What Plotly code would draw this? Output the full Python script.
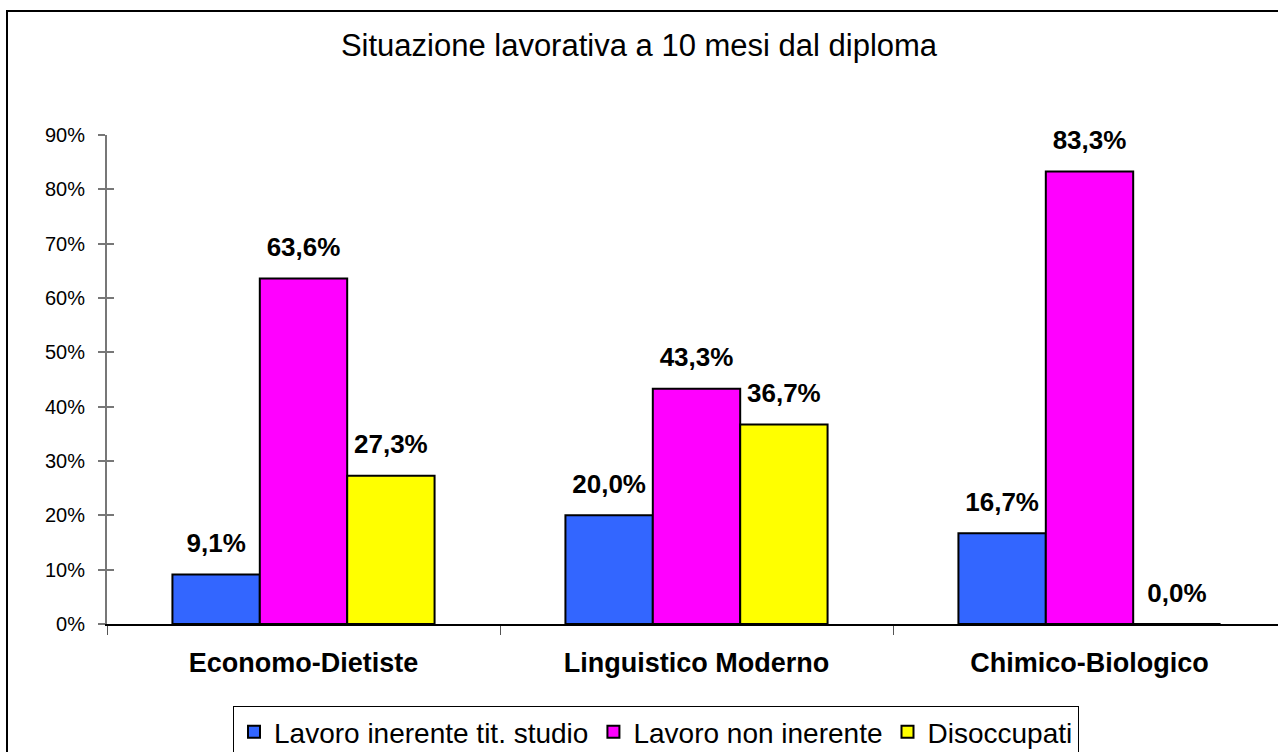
import plotly.graph_objects as go

categories = ["Economo-Dietiste", "Linguistico Moderno", "Chimico-Biologico"]
series_names = ["Lavoro inerente tit. studio", "Lavoro non inerente", "Disoccupati"]
lavoro_inerente = [9.1, 20.0, 16.7]
lavoro_non_inerente = [63.6, 43.3, 83.3]
disoccupati = [27.3, 36.7, 0.0]
colors = ["#3366FF", "#FF00FF", "#FFFF00"]
y_ticks = [0, 10, 20, 30, 40, 50, 60, 70, 80, 90]
y_ticktext = [f"{v}%" for v in y_ticks]

def fmt(v):
    return f"{v:.1f}%".replace(".", ",")

FONT = "Liberation Sans, Arial"
fig = go.Figure()
all_series = [lavoro_inerente, lavoro_non_inerente, disoccupati]
for name, vals, col in zip(series_names, all_series, colors):
    fig.add_trace(go.Bar(
        x=categories, y=vals, name=name,
        marker=dict(color=col, line=dict(color="black", width=2)),
    ))
# value labels: invisible markers grouped like the bars, text above them
for name, vals in zip(series_names, all_series):
    fig.add_trace(go.Scatter(
        x=categories, y=vals, mode="markers+text", showlegend=False, hoverinfo="skip",
        marker=dict(size=24, opacity=0), cliponaxis=False,
        text=[fmt(v) for v in vals], textposition="top center",
        textfont=dict(family=FONT, size=26, color="black", weight="bold"),
    ))

W, H = 1278, 752
L, T, B = 107, 135, 128
pw, ph = W - L, H - T - B

fig.update_layout(
    width=W, height=H,
    margin=dict(l=L, r=0, t=T, b=B, autoexpand=False),
    paper_bgcolor="white", plot_bgcolor="white",
    barmode="group", bargap=0.333, bargroupgap=0,
    scattermode="group", scattergap=0.333,
    font=dict(family=FONT, color="black"),
    title=dict(text="Situazione lavorativa a 10 mesi dal diploma", x=0.5, xanchor="center",
               y=1 - 45 / H, yanchor="middle", font=dict(size=31, color="black")),
    xaxis=dict(range=[-0.5, -0.5 + pw / 393.0], showline=True, linecolor="black", linewidth=1.5,
               ticks="outside", tickson="boundaries", ticklen=9, tickcolor="#555",
               tickfont=dict(size=27, weight="bold", color="black"), ticklabelstandoff=14,
               showgrid=False, zeroline=False),
    yaxis=dict(range=[0, 90], tickvals=y_ticks, ticktext=y_ticktext, showline=True, linecolor="#777",
               linewidth=2, ticks="outside", ticklen=7, tickcolor="#777", tickwidth=1.5,
               tickfont=dict(size=20, color="black"), ticklabelstandoff=9,
               showgrid=False, zeroline=False),
    yaxis2=dict(range=[0, 90], tickvals=y_ticks, overlaying="y", side="left", showticklabels=False,
                ticks="inside", ticklen=7, tickcolor="#777", tickwidth=1.5, showgrid=False,
                zeroline=False, showline=False),
    legend=dict(orientation="h", x=(233 - L) / pw, xanchor="left", y=(624 - 706) / ph, yanchor="top",
                bordercolor="black", borderwidth=1, bgcolor="white",
                font=dict(size=28, color="black"), itemwidth=30, tracegroupgap=0),
    shapes=[dict(type="rect", xref="paper", yref="paper",
                 x0=(7 - L) / pw, x1=(W + 20 - L) / pw,
                 y0=(624 - (H + 20)) / ph, y1=(624 - 11) / ph,
                 line=dict(color="black", width=2), fillcolor="rgba(0,0,0,0)", layer="below")],
)
fig.add_trace(go.Scatter(x=[categories[0]], y=[0], yaxis="y2", mode="markers",
                         marker=dict(opacity=0), showlegend=False, hoverinfo="skip"))

fig.write_html("out.html", config={"displayModeBar": False},
               post_script="document.body.style.margin='0px';")
